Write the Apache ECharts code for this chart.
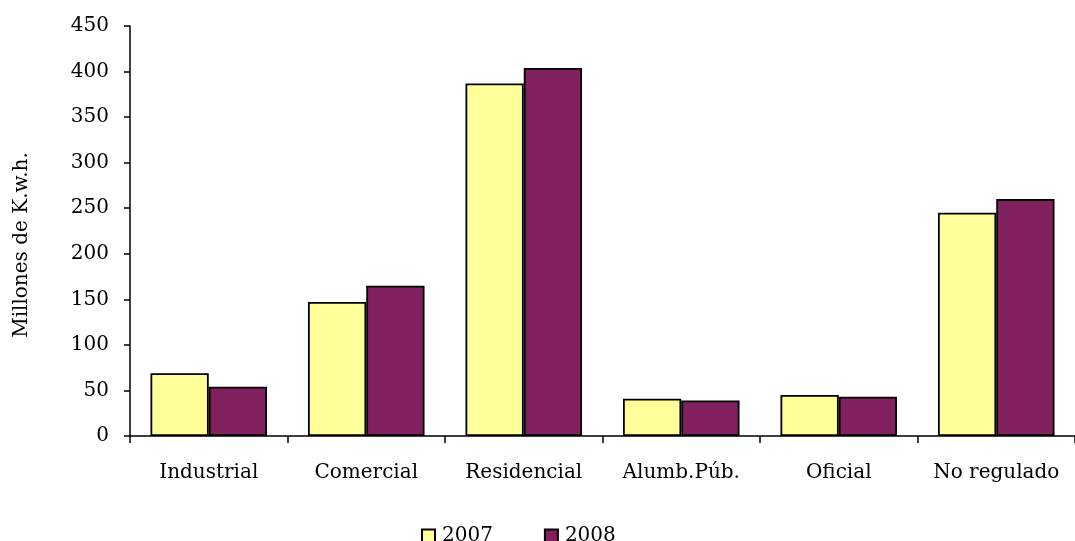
<!DOCTYPE html>
<html>
<head>
<meta charset="utf-8">
<script src="https://cdn.jsdelivr.net/npm/echarts@6/dist/echarts.min.js"></script>
<style>html,body{margin:0;padding:0;background:#fff}#c{width:1075px;height:541px}</style>
</head>
<body>
<div id="c"></div>
<script>
const categories = ['Industrial', 'Comercial', 'Residencial', 'Alumb.Púb.', 'Oficial', 'No regulado'];
const values2007 = [69, 147, 387, 41, 45, 245];
const values2008 = [54, 165, 404, 39, 43, 260];
const seriesNames = ['2007', '2008'];
const FONT = 'DejaVu Serif';
const chart = echarts.init(document.getElementById('c'));
chart.setOption({
  animation: false,
  backgroundColor: '#fff',
  grid: { left: 130, top: 26, width: 953, height: 410, containLabel: false },
  legend: {
    data: seriesNames,
    top: 521,
    left: 416,
    itemWidth: 13,
    itemHeight: 13,
    itemGap: 51,
    textStyle: { fontFamily: FONT, fontSize: 20, color: '#000', padding: [0, 0, 0, 2] },
    icon: 'rect'
  },
  xAxis: {
    type: 'category',
    data: categories,
    axisLine: { lineStyle: { color: '#000', width: 1.5 } },
    axisTick: { show: true, interval: 0, length: 7, lineStyle: { color: '#000', width: 1.5 } },
    axisLabel: { interval: 0, color: '#000', fontFamily: FONT, fontSize: 20, margin: 27 }
  },
  yAxis: {
    type: 'value',
    min: 0, max: 450, interval: 50,
    name: 'Millones de K.w.h.',
    nameLocation: 'middle',
    nameGap: 98,
    nameTextStyle: { color: '#000', fontFamily: FONT, fontSize: 20, padding: [0, 28, 0, 0] },
    axisLine: { show: true, lineStyle: { color: '#000', width: 1.5 } },
    axisTick: { show: true, length: 6, inside: false, lineStyle: { color: '#000', width: 1.5 } },
    axisLabel: { color: '#000', fontFamily: FONT, fontSize: 20, margin: 21 },
    splitLine: { show: false }
  },
  series: [
    {
      name: seriesNames[0], type: 'bar', data: values2007,
      barGap: '0%', barCategoryGap: '26%',
      itemStyle: { color: '#ffff99', borderColor: '#000', borderWidth: 1.8 }
    },
    {
      name: seriesNames[1], type: 'bar', data: values2008,
      barGap: '0%', barCategoryGap: '26%',
      itemStyle: { color: '#80205f', borderColor: '#000', borderWidth: 1.8 }
    }
  ]
});
</script>
</body>
</html>
